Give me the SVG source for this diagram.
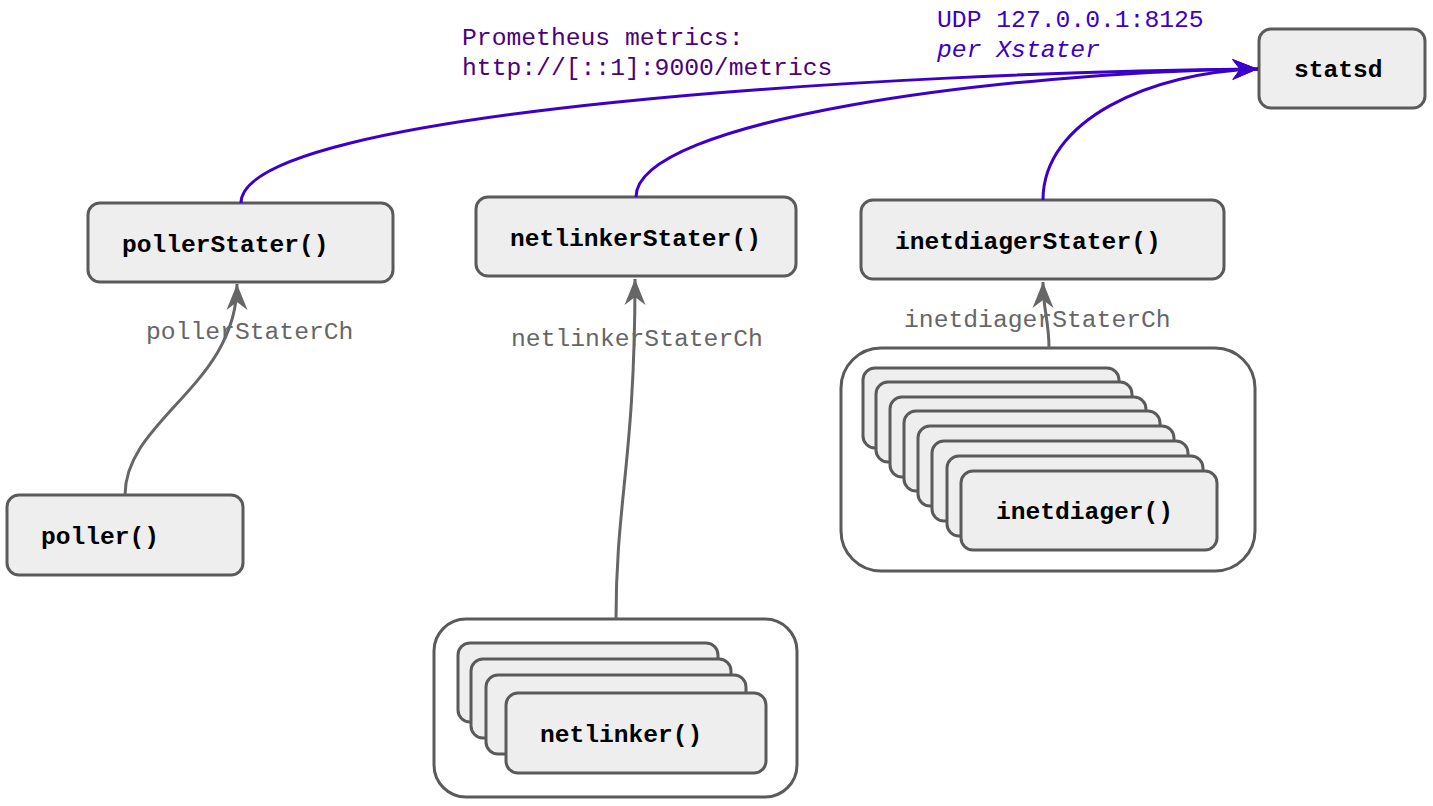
<svg xmlns="http://www.w3.org/2000/svg" width="1433" height="806" viewBox="0 0 1433 806">
<style>
.box{fill:#eeeeee;stroke:#5a5a5a;stroke-width:3}
.cont{fill:#ffffff;stroke:#5a5a5a;stroke-width:3}
.lbl{font-family:"Liberation Mono","DejaVu Sans Mono",monospace;font-size:24.6px;font-weight:bold;fill:#000000}
.el{font-family:"Liberation Mono","DejaVu Sans Mono",monospace;font-size:24.7px}
.gray{fill:#666666}
.prom{fill:#4c0080}
.udp{fill:#3b00cc}
.cg{fill:none;stroke:#666666;stroke-width:3}
.cb{fill:none;stroke:#3b00cc;stroke-width:3}
</style>
<defs>
<marker id="ag" markerUnits="userSpaceOnUse" markerWidth="30" markerHeight="24" viewBox="0 0 30 24" refX="28" refY="12" orient="auto">
<path d="M28,12 L2,1.5 L10,12 L2,22.5 Z" fill="#666666"/>
</marker>
<marker id="ab" markerUnits="userSpaceOnUse" markerWidth="30" markerHeight="24" viewBox="0 0 30 24" refX="28" refY="12" orient="auto">
<path d="M28,12 L2,1.5 L10,12 L2,22.5 Z" fill="#3b00cc"/>
</marker>
</defs>

<g id="statsd">
<rect class="box" x="1259" y="29" width="166" height="79" rx="12"/>
<text class="lbl" x="1294" y="77">statsd</text>
</g>

<g id="pollerStater">
<rect class="box" x="88" y="203" width="305" height="79" rx="12"/>
<text class="lbl" x="122" y="252">pollerStater()</text>
</g>

<g id="netlinkerStater">
<rect class="box" x="476" y="197" width="320" height="79" rx="12"/>
<text class="lbl" x="510" y="246">netlinkerStater()</text>
</g>

<g id="inetdiagerStater">
<rect class="box" x="861" y="200" width="363" height="79" rx="12"/>
<text class="lbl" x="895" y="249">inetdiagerStater()</text>
</g>

<g id="poller">
<rect class="box" x="7" y="495" width="236" height="80" rx="12"/>
<text class="lbl" x="41" y="544">poller()</text>
</g>

<g id="inetdiagerGroup">
<rect class="cont" x="841" y="348" width="414" height="223" rx="40"/>
<rect class="box" x="863" y="368" width="256" height="80" rx="12"/>
<rect class="box" x="876" y="382" width="256" height="80" rx="12"/>
<rect class="box" x="890" y="397" width="256" height="80" rx="12"/>
<rect class="box" x="904" y="411" width="256" height="80" rx="12"/>
<rect class="box" x="918" y="426" width="256" height="80" rx="12"/>
<rect class="box" x="932" y="441" width="256" height="80" rx="12"/>
<rect class="box" x="947" y="456" width="256" height="80" rx="12"/>
<rect class="box" x="961" y="471" width="256" height="79" rx="12"/>
<text class="lbl" x="996" y="519">inetdiager()</text>
</g>

<g id="netlinkerGroup">
<rect class="cont" x="434" y="619" width="363" height="178" rx="32"/>
<rect class="box" x="458" y="643" width="260" height="79" rx="12"/>
<rect class="box" x="471" y="659" width="260" height="79" rx="12"/>
<rect class="box" x="486" y="675" width="260" height="79" rx="12"/>
<rect class="box" x="506" y="693" width="260" height="80" rx="12"/>
<text class="lbl" x="540" y="742">netlinker()</text>
</g>

<g id="connectors">
<path class="cg" d="M125,495 C125,420 237,385 237,284" marker-end="url(#ag)"/>
<path class="cg" d="M616,619 C616,500 635,460 635,279" marker-end="url(#ag)"/>
<path class="cg" d="M1049,348 C1049,320 1043,310 1043,282" marker-end="url(#ag)"/>
<path class="cb" d="M241,203 C241,110 900,72 1258,69" marker-end="url(#ab)"/>
<path class="cb" d="M636,197 C636,120 1000,72 1258,69" marker-end="url(#ab)"/>
<path class="cb" d="M1043,200 C1043,120 1150,72 1258,69" marker-end="url(#ab)"/>
<text class="el gray" x="146" y="339">pollerStaterCh</text>
<text class="el gray" x="511" y="346">netlinkerStaterCh</text>
<text class="el gray" x="904" y="327">inetdiagerStaterCh</text>
<text class="el prom" x="462" y="45">Prometheus metrics:</text>
<text class="el prom" x="462" y="75">http://[::1]:9000/metrics</text>
<text class="el udp" x="937" y="27">UDP 127.0.0.1:8125</text>
<text class="el udp" x="937" y="57" font-style="italic">per Xstater</text>
</g>
</svg>
